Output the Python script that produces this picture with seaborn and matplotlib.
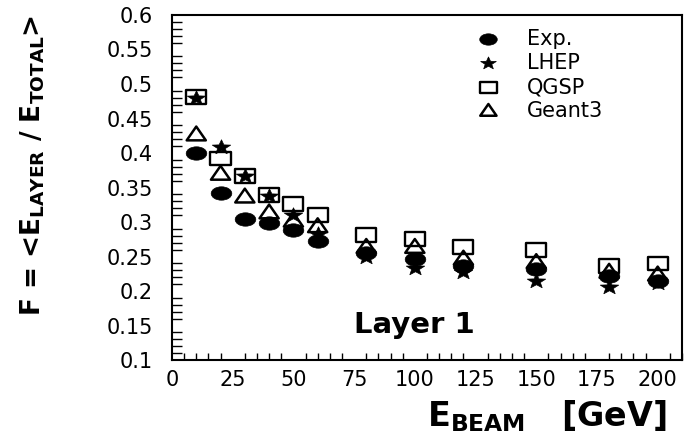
# Imports

import seaborn           as sns
import numpy             as np
import matplotlib.pyplot as plt
from matplotlib.path       import Path
from matplotlib.transforms import Affine2D
from matplotlib.ticker     import MultipleLocator

#####

# Values (Layer 1)

beam_energy   = [10, 20, 30, 40, 50, 60, 80, 100, 120, 150, 180, 200]
exp_frac      = [0.400, 0.342, 0.304, 0.299, 0.288, 0.273, 0.255, 0.247, 0.236, 0.232, 0.222, 0.215]
lhep_frac     = [0.480, 0.408, 0.366, 0.338, 0.310, 0.282, 0.250, 0.233, 0.227, 0.215, 0.206, 0.211]
qgsp_frac     = [0.481, 0.392, 0.367, 0.339, 0.326, 0.310, 0.281, 0.275, 0.264, 0.259, 0.236, 0.240]
geant3_frac   = [0.425, 0.368, 0.335, 0.312, 0.300, 0.292, 0.262, 0.262, 0.245, 0.240, 0.226, 0.222]

x_ticks       = [0, 25, 50, 75, 100, 125, 150, 175, 200]
x_tick_labels = ["0", "25", "50", "75", "100", "125", "150", "175", "200"]
y_ticks       = [0.1, 0.15, 0.2, 0.25, 0.3, 0.35, 0.4, 0.45, 0.5, 0.55, 0.6]
y_tick_labels = ["0.1", "0.15", "0.2", "0.25", "0.3", "0.35", "0.4", "0.45", "0.5", "0.55", "0.6"]

#####

# Basic appearance, all black text like the reference

sns.set_theme(style = "white")
plt.rcParams["font.family"]      = ["DejaVu Sans"]
plt.rcParams["mathtext.fontset"] = "dejavusans"
plt.rcParams["text.color"]       = "black"
plt.rcParams["axes.labelcolor"]  = "black"
plt.rcParams["xtick.color"]      = "black"
plt.rcParams["ytick.color"]      = "black"

#####

# The reference is stretched sideways, so the markers are a bit squashed

def squash(path, sx, sy):
    return path.transformed(Affine2D().scale(sx, sy))

circle_mark   = squash(Path.unit_circle(), 1.0, 0.65)
star_mark     = squash(Path.unit_regular_star(5, 0.42), 1.25, 1.0)
square_mark   = squash(Path([(-1, -1), (1, -1), (1, 1), (-1, 1), (-1, -1)], closed = True), 1.0, 0.68)
triangle_mark = squash(Path.unit_regular_polygon(3), 1.2, 1.0)

#####

fig = plt.figure(figsize = (6.89, 4.36), dpi = 100, facecolor = "white")
ax  = fig.add_axes([0.2496, 0.1743, 0.7402, 0.7913])

sns.scatterplot(x = beam_energy, y = qgsp_frac, marker = square_mark, s = 210, facecolor = "none",
                edgecolor = "black", linewidth = 1.7, label = "QGSP", ax = ax, zorder = 3)
sns.scatterplot(x = beam_energy, y = geant3_frac, marker = triangle_mark, s = 190, facecolor = "none",
                edgecolor = "black", linewidth = 1.8, label = "Geant3", ax = ax, zorder = 3)
sns.scatterplot(x = beam_energy, y = lhep_frac, marker = star_mark, s = 175, color = "black",
                edgecolor = "black", linewidth = 0.5, label = "LHEP", ax = ax, zorder = 4)
sns.scatterplot(x = beam_energy, y = exp_frac, marker = circle_mark, s = 220, color = "black",
                edgecolor = "black", linewidth = 0.5, label = "Exp.", ax = ax, zorder = 5)

ax.set_xlim(0, 210)
ax.set_ylim(0.1, 0.6)
ax.set_xticks(x_ticks)
ax.set_xticklabels(x_tick_labels, size = 15)
ax.set_yticks(y_ticks)
ax.set_yticklabels(y_tick_labels, size = 15)
ax.xaxis.set_minor_locator(MultipleLocator(5))
ax.yaxis.set_minor_locator(MultipleLocator(0.01))
ax.tick_params(axis = "x", which = "major", direction = "in", length = 9, width = 1, pad = 7)
ax.tick_params(axis = "x", which = "minor", direction = "in", length = 5, width = 1, bottom = True)
ax.tick_params(axis = "y", which = "major", direction = "in", length = 12, width = 1, pad = 14)
ax.tick_params(axis = "y", which = "minor", direction = "in", length = 7, width = 1, left = True)
for spine in ax.spines.values():
    spine.set_color("black")
    spine.set_linewidth(1.5)

ax.set_ylabel(r"F = <E$_{\mathbf{LAYER}}$ / E$_{\mathbf{TOTAL}}$>", size = 19, weight = "bold")
ax.yaxis.set_label_coords(-0.245, 0.565)
ax.set_xlabel(r"E$_{\mathbf{BEAM}}$   [GeV]", size = 24, weight = "bold", ha = "right")
ax.xaxis.set_label_coords(0.97, -0.11)

ax.text(100, 0.151, "Layer 1", size = 21, weight = "bold", ha = "center", va = "center")

# Legend in the reference's order
handles, labels = ax.get_legend_handles_labels()
order = [labels.index(name) for name in ["Exp.", "LHEP", "QGSP", "Geant3"]]
ax.legend([handles[i] for i in order], [labels[i] for i in order], loc = "upper left",
          bbox_to_anchor = (0.6, 0.96), frameon = False, fontsize = 15, markerscale = 0.85,
          handlelength = 1.0, handletextpad = 1.35, labelspacing = 0.2, borderpad = 0, borderaxespad = 0)

plt.savefig("out.png", dpi = 100, facecolor = "white")
